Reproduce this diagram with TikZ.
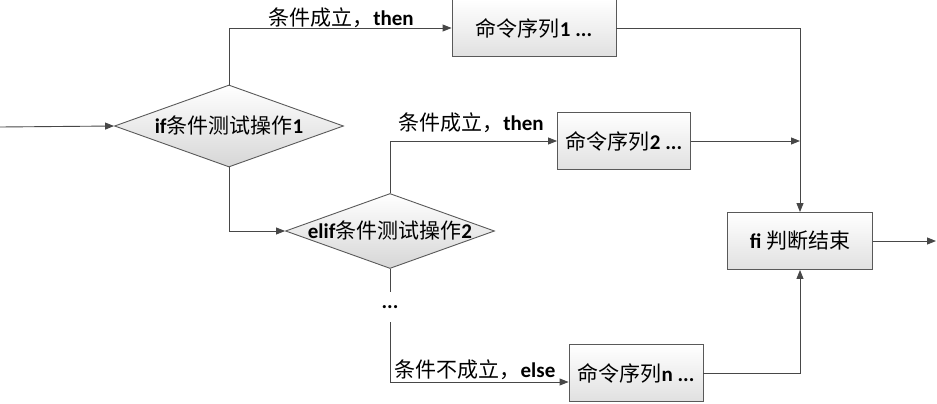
\documentclass[tikz,border=0pt]{standalone}
\usepackage{fontspec}
\setmainfont{Carlito}
\newfontfamily\cjkfont{Noto Sans CJK SC}
\newcommand\zh[1]{{\cjkfont\mdseries #1}}
\usetikzlibrary{shapes.geometric,arrows.meta}

\begin{document}
\begin{tikzpicture}[x=1pt,y=-1pt,
    line width=0.9pt,
    font=\fontsize{21}{25}\selectfont\bfseries,
    wire/.style={draw=black!72},
    arr/.style={wire,-{Triangle[length=9pt,width=7pt]}},
    cmdbox/.style={draw=black!65,rectangle,top color=white,bottom color=black!12,
      minimum height=57pt,inner sep=0pt},
    test/.style={draw=black!65,diamond,top color=white,bottom color=black!16,
      inner xsep=-12pt,inner ysep=-4pt,aspect=2.8}]
  \useasboundingbox (0,0) rectangle (937,404);

  \node[test,minimum width=229pt,minimum height=82pt] (if1) at (229,126)
    {if\zh{条件测试操作}1};
  \node[test,minimum width=209pt,minimum height=75pt] (elif2) at (390,231)
    {elif\zh{条件测试操作}2};

  \node[cmdbox,minimum width=164pt] (seq1) at (534,28) {\zh{命令序列}1 ...};
  \node[cmdbox,minimum width=133pt] (seq2) at (624,141) {\zh{命令序列}2 ...};
  \node[cmdbox,minimum width=134pt] (seqn) at (636,373) {\zh{命令序列}n ...};
  \node[cmdbox,minimum width=145pt] (fi) at (800,241) {fi \zh{判断结束}};

  \node[inner sep=0pt,minimum height=30pt] (dots) at (390,307) {...};

  \node (then1) at (341,18) {\zh{条件成立，}then};
  \node (then2) at (471,123) {\zh{条件成立，}then};
  \node (else) at (475,370) {\zh{条件不成立，}else};

  \coordinate (in) at (0,127);
  \coordinate (out) at (936,241);

  \draw[arr] (in) -- (if1.west);
  \draw[arr] (if1.north) |- (seq1.west);
  \draw[arr] (if1.south) |- (elif2.west);
  \draw[arr] (elif2.north) |- (seq2.west);
  \draw[wire] (elif2.south) -- (dots.north);
  \draw[arr] (dots.south) |- ([yshift=-9pt]seqn.west);

  \draw[arr] (seq1.east) -| (fi.north);
  \draw[arr] (seq2.east) -- (seq2.east -| fi.north);
  \draw[arr] (seqn.east) -| (fi.south);
  \draw[arr] (fi.east) -- (out);
\end{tikzpicture}
\end{document}
